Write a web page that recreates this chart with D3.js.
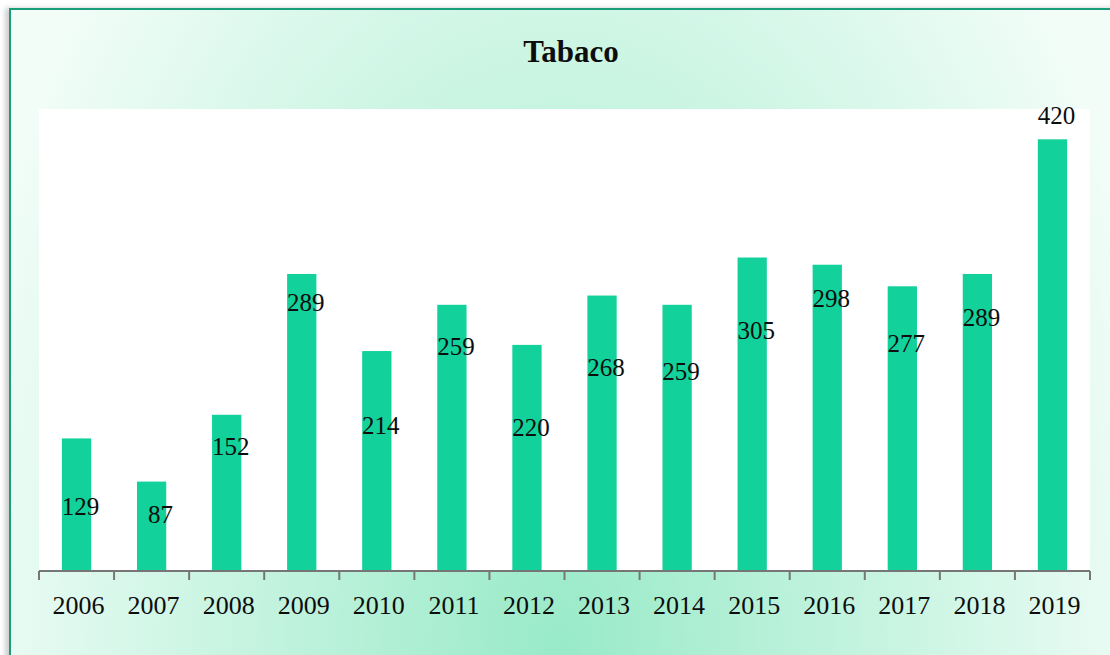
<!DOCTYPE html>
<html>
<head>
<meta charset="utf-8">
<script src="https://cdn.jsdelivr.net/npm/d3@7"></script>
<style>
  body { margin: 0; background: #fff; }
  text { font-family: "Liberation Serif", "DejaVu Serif", serif; fill: #0d0d0d; }
</style>
</head>
<body>
<div id="chart"></div>
<script>
const width = 1110;
const height = 655;
const plot = { left: 39, right: 1090, top: 109, bottom: 571 };

// data
const years = ['2006', '2007', '2008', '2009', '2010', '2011', '2012',
               '2013', '2014', '2015', '2016', '2017', '2018', '2019'];
const values = [129, 87, 152, 289, 214, 259, 220, 268, 259, 305, 298, 277, 289, 420];
// where each label sits, in value units (labels were dragged by hand)
const label_at = [54.5, 46.7, 112.8, 252.9, 133.3, 210, 131.3, 189.7, 185.8, 225.7, 256.8, 213, 238.3, 434.8];
const title = 'Tabaco';

const svg = d3.select('#chart')
  .append('svg')
    .attr('width', width)
    .attr('height', height);

const defs = svg.append('defs');
const grad = defs.append('radialGradient')
    .attr('id', 'bg')
    .attr('gradientUnits', 'userSpaceOnUse')
    .attr('cx', 0).attr('cy', 0).attr('r', 1)
    .attr('gradientTransform', 'translate(560,660) scale(620,1050)');
grad.append('stop').attr('offset', 0).attr('stop-color', '#98eac8');
grad.append('stop').attr('offset', 1).attr('stop-color', '#f2fdf8');

defs.append('filter').attr('id', 'shadow')
    .attr('x', '-5%').attr('y', '-5%').attr('width', '110%').attr('height', '110%')
  .append('feGaussianBlur').attr('stdDeviation', 2.5);

// frame
svg.append('rect')
    .attr('x', 5).attr('y', 8)
    .attr('width', width + 20).attr('height', height + 20)
    .attr('fill', '#cfcfcf')
    .attr('filter', 'url(#shadow)');
svg.append('rect')
    .attr('x', 10).attr('y', 9)
    .attr('width', width + 20).attr('height', height + 20)
    .attr('fill', 'url(#bg)')
    .attr('stroke', '#1a9e7a')
    .attr('stroke-width', 2);

svg.append('rect')
    .attr('x', plot.left).attr('y', plot.top)
    .attr('width', plot.right - plot.left)
    .attr('height', plot.bottom - plot.top)
    .attr('fill', '#fff');

const slot_scale = d3.scaleBand()
  .domain(years)
  .range([plot.left, plot.right]);
const x_scale = d3.scaleBand()
  .domain(years)
  .range([plot.left, plot.right])
  .paddingInner(0.61)
  .paddingOuter(0.305);
const y_scale = d3.scaleLinear()
  .domain([0, 449.5])
  .range([plot.bottom, plot.top]);

const data = years.map((y, i) => ({ year: y, value: values[i], label: label_at[i] }));

svg.selectAll('.bar')
    .data(data)
  .join('rect')
    .attr('class', 'bar')
    .attr('x', d => x_scale(d.year))
    .attr('y', d => y_scale(d.value))
    .attr('width', x_scale.bandwidth())
    .attr('height', d => y_scale(0) - y_scale(d.value))
    .attr('fill', '#12d19b');

// axis: labels centred in slots, ticks on slot edges
const axis = svg.append('g')
    .attr('class', 'x-axis')
    .attr('transform', `translate(0,${plot.bottom})`)
    .call(d3.axisBottom(slot_scale).tickSize(0));
axis.select('.domain').remove();
axis.selectAll('text')
    .attr('font-size', 26)
    .attr('fill', '#0d0d0d')
    .attr('dy', 0)
    .attr('y', 43)
    .attr('dx', 2);

const edges = years.map(y => slot_scale(y)).concat([plot.right]);
axis.selectAll('.edge')
    .data(edges)
  .join('line')
    .attr('class', 'edge')
    .attr('x1', d => d).attr('x2', d => d)
    .attr('y1', 0).attr('y2', 9)
    .attr('stroke', '#767676')
    .attr('stroke-width', 2);
axis.append('line')
    .attr('x1', plot.left).attr('x2', plot.right)
    .attr('y1', 0).attr('y2', 0)
    .attr('stroke', '#767676')
    .attr('stroke-width', 2);

svg.selectAll('.value')
    .data(data)
  .join('text')
    .attr('class', 'value')
    .attr('text-anchor', 'middle')
    .attr('font-size', 25)
    .attr('x', d => x_scale(d.year) + x_scale.bandwidth() / 2 + (d.value < 100 ? 9 : 4))
    .attr('y', d => y_scale(d.label))
    .text(d => d.value);

svg.append('text')
    .attr('x', 571)
    .attr('y', 62)
    .attr('text-anchor', 'middle')
    .attr('font-size', 31)
    .attr('font-weight', 'bold')
    .text(title);
</script>
</body>
</html>
